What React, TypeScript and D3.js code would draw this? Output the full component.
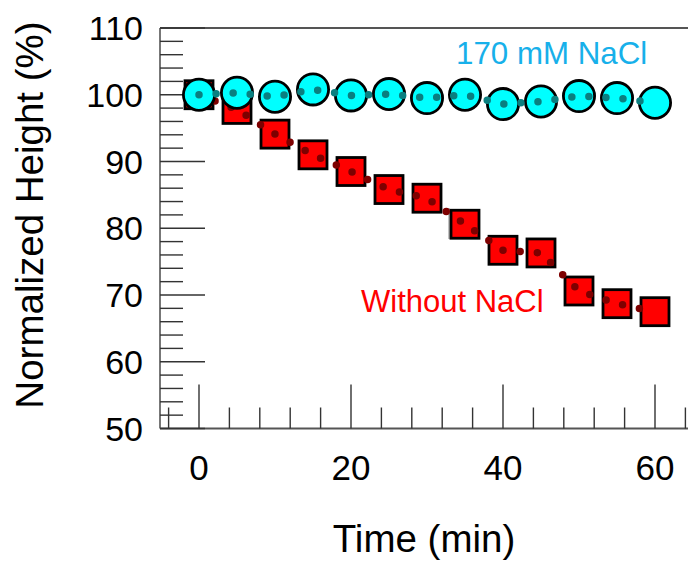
import React from "react";
import * as d3 from "d3";

const times = [0, 5, 10, 15, 20, 25, 30, 35, 40, 45, 50, 55, 60];
const withNaCl = [100.0, 100.3, 99.7, 100.8, 99.9, 100.1, 99.5, 100.0, 98.6, 99.0, 99.8, 99.5, 98.8];
const withoutNaCl = [100.0, 97.8, 94.1, 91.0, 88.5, 85.8, 84.5, 80.6, 76.7, 76.3, 70.6, 68.7, 67.5];
const xMajorTicks = [0, 20, 40, 60];
const xMinorTicks = d3.range(-4, 65, 4);
const yMajorTicks = [50, 60, 70, 80, 90, 100, 110];
const yMinorTicks = d3.range(50, 111, 2);
const labelNaCl = "170 mM NaCl";
const labelWithout = "Without NaCl";
const xTitle = "Time (min)";
const yTitle = "Normalized Height (%)";

const W = 688;
const H = 561;
const FONT = "'Liberation Sans', Arial, sans-serif";

export default function App() {
  const x = d3.scaleLinear().domain([0, 60]).range([199, 655]);
  const y = d3.scaleLinear().domain([50, 110]).range([428.5, 28]);
  const left = 160;
  const right = W;
  const bottom = y(50);
  const top = y(110);

  const ptsA = times.map((t, i) => [x(t), y(withNaCl[i])] as [number, number]);
  const ptsB = times.map((t, i) => [x(t), y(withoutNaCl[i])] as [number, number]);
  const line = d3.line();

  const axisColor = "#555";
  const tickColor = "#333";
  const sq = 28;

  return (
    <svg
      width={W}
      height={H}
      style={{ position: "absolute", left: 0, top: 0, background: "#fff" }}
      fontFamily={FONT}
    >
      {/* frame */}
      <line x1={left} x2={right} y1={top} y2={top} stroke={axisColor} strokeWidth={2} />
      <line x1={left} x2={left} y1={top} y2={bottom} stroke={axisColor} strokeWidth={1.6} />
      <line x1={left} x2={right} y1={bottom} y2={bottom} stroke={axisColor} strokeWidth={2} />

      {/* y ticks */}
      {yMinorTicks.map((v) => {
        const major = v % 10 === 0;
        return (
          <line
            key={"ym" + v}
            x1={left}
            x2={left + (major ? 45 : 23)}
            y1={y(v)}
            y2={y(v)}
            stroke={tickColor}
            strokeWidth={1.4}
          />
        );
      })}
      {yMajorTicks.map((v) => (
        <text
          key={"yl" + v}
          x={143}
          y={y(v)}
          dy="0.36em"
          textAnchor="end"
          fontSize={34}
          fill="#000"
        >
          {v}
        </text>
      ))}

      {/* x ticks */}
      {xMinorTicks.map((v) => {
        const major = v % 20 === 0;
        return (
          <line
            key={"xm" + v}
            x1={x(v)}
            x2={x(v)}
            y1={bottom}
            y2={bottom - (major ? 44 : 21)}
            stroke={tickColor}
            strokeWidth={1.4}
          />
        );
      })}
      {xMajorTicks.map((v) => (
        <text key={"xl" + v} x={x(v)} y={479.5} textAnchor="middle" fontSize={35} fill="#000">
          {v}
        </text>
      ))}

      {/* small text-box edge artifact */}
      <line x1={449} x2={449} y1={208} y2={239} stroke="#999" strokeWidth={1.2} />

      {/* Without NaCl series */}
      {ptsB.map(([px, py], i) => (
        <rect
          key={"b" + i}
          x={px - sq / 2}
          y={py - sq / 2}
          width={sq}
          height={sq}
          fill="#ff0000"
          stroke="#000"
          strokeWidth={2.8}
        />
      ))}
      <path
        d={line(ptsB) || ""}
        fill="none"
        stroke="#7d0000"
        strokeWidth={7.5}
        strokeLinecap="round"
        strokeDasharray="0 17.2"
      />

      {/* 170 mM NaCl series */}
      {ptsA.map(([px, py], i) => (
        <circle key={"a" + i} cx={px} cy={py} r={15.6} fill="#00ffff" stroke="#000" strokeWidth={2.8} />
      ))}
      <path
        d={line(ptsA) || ""}
        fill="none"
        stroke="#0a7f80"
        strokeWidth={7.5}
        strokeLinecap="round"
        strokeDasharray="0 17.1"
      />

      {/* annotations */}
      <text x={456} y={63.5} fontSize={31.3} fill="#17b0ea">
        {labelNaCl}
      </text>
      <text x={361} y={311.5} fontSize={31} fill="#ff0000">
        {labelWithout}
      </text>

      {/* axis titles */}
      <text x={424} y={552} textAnchor="middle" fontSize={38.5} fill="#000">
        {xTitle}
      </text>
      <text
        transform={`translate(42.5,215) rotate(-90)`}
        textAnchor="middle"
        fontSize={38.5}
        fill="#000"
      >
        {yTitle}
      </text>
    </svg>
  );
}
